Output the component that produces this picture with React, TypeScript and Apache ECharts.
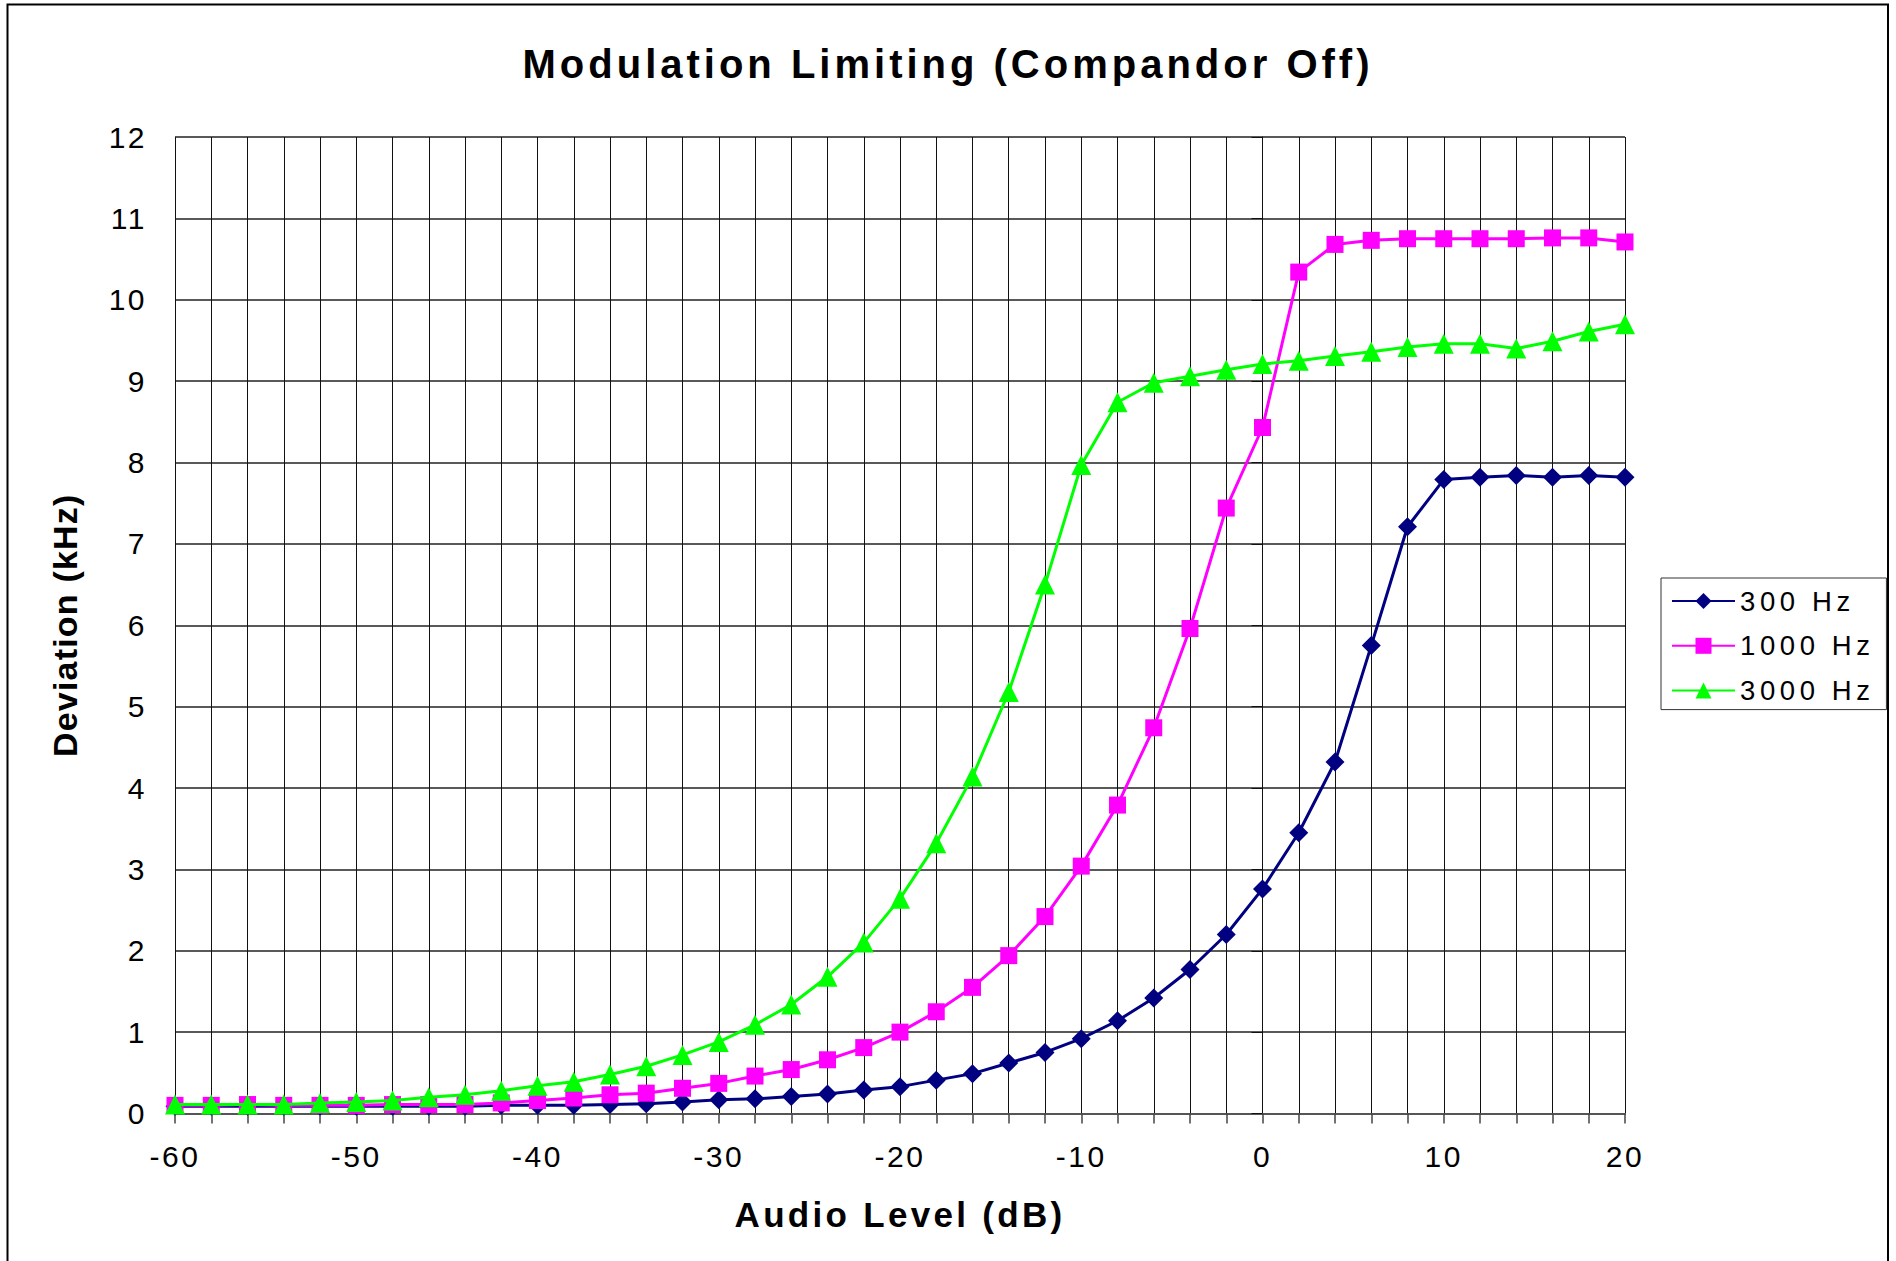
import React, { useEffect, useRef } from 'react';
import * as echarts from 'echarts';

const audioLevels = [
  -60, -58, -56, -54, -52, -50, -48, -46, -44, -42, -40, -38, -36, -34, -32, -30, -28, -26, -24, -22,
  -20, -18, -16, -14, -12, -10, -8, -6, -4, -2, 0, 2, 4, 6, 8, 10, 12, 14, 16, 18, 20,
];

const dev300Hz = [
  0.09, 0.09, 0.09, 0.09, 0.09, 0.09, 0.09, 0.09, 0.09, 0.10, 0.10, 0.10, 0.11, 0.12, 0.14, 0.17, 0.18, 0.21, 0.24, 0.29,
  0.33, 0.41, 0.49, 0.62, 0.75, 0.92, 1.14, 1.42, 1.77, 2.20, 2.76, 3.45, 4.32, 5.75, 7.21, 7.79, 7.82, 7.84, 7.82, 7.84, 7.82,
];

const dev1000Hz = [
  0.10, 0.10, 0.11, 0.10, 0.10, 0.10, 0.11, 0.11, 0.11, 0.13, 0.16, 0.19, 0.23, 0.25, 0.31, 0.37, 0.46, 0.54, 0.66, 0.81,
  1.00, 1.25, 1.55, 1.94, 2.42, 3.04, 3.79, 4.74, 5.96, 7.44, 8.43, 10.34, 10.68, 10.73, 10.75, 10.75, 10.75, 10.75, 10.76, 10.76, 10.71,
];

const dev3000Hz = [
  0.11, 0.11, 0.11, 0.11, 0.13, 0.14, 0.16, 0.20, 0.23, 0.28, 0.34, 0.39, 0.48, 0.58, 0.72, 0.88, 1.09, 1.34, 1.68, 2.10,
  2.64, 3.32, 4.14, 5.18, 6.50, 7.97, 8.74, 8.98, 9.06, 9.14, 9.21, 9.25, 9.31, 9.36, 9.42, 9.46, 9.46, 9.40, 9.49, 9.61, 9.70,
];

const seriesNames = ['300 Hz', '1000 Hz', '3000 Hz'];
const seriesColors = ['#000080', '#FF00FF', '#00FF00'];
const seriesSymbols = ['diamond', 'rect', 'triangle'];
const seriesSymbolSizes = [19, 17, 20];

const FONT = '"Liberation Sans", Arial, Helvetica, sans-serif';

const css = `
#modchart text[style*="40px"]{letter-spacing:4px}
#modchart text[style*="35px"]{letter-spacing:3.3px}
#modchart text[style*="34px"]{letter-spacing:1.2px}
#modchart text[style*="30px"]{letter-spacing:2.5px}
#modchart text[style*="27.5px"]{letter-spacing:4.6px}
`;

export default function App() {
  const ref = useRef<HTMLDivElement>(null);

  useEffect(() => {
    if (!ref.current) return;
    const chart = echarts.init(ref.current, undefined, { renderer: 'svg' });
    const allSeries = [dev300Hz, dev1000Hz, dev3000Hz];
    const option: any = {
      animation: false,
      backgroundColor: '#ffffff',
      title: {
        text: 'Modulation Limiting (Compandor Off)',
        left: 'center',
        top: 44,
        padding: 0,
        textStyle: { fontFamily: FONT, fontSize: 40, fontWeight: 'bold', color: '#000' },
      },
      grid: { left: 175, right: 271, top: 137, bottom: 147.5, show: false },
      xAxis: {
        type: 'value',
        min: -60,
        max: 20,
        interval: 2,
        name: 'Audio Level (dB)',
        nameLocation: 'middle',
        nameGap: 83,
        nameTextStyle: { fontFamily: FONT, fontSize: 35, fontWeight: 'bold', color: '#000' },
        axisLine: { show: true, onZero: false, lineStyle: { color: '#555', width: 2 } },
        axisTick: { show: true, length: 10, lineStyle: { color: '#444', width: 1.5 } },
        axisLabel: {
          formatter: (v: number) => (v % 10 === 0 ? String(v) : ''),
          margin: 28,
          fontSize: 30,
          fontFamily: FONT,
          color: '#000',
        },
        splitLine: { show: true, lineStyle: { color: '#111', width: 1 } },
      },
      yAxis: {
        type: 'value',
        min: 0,
        max: 12,
        interval: 1,
        name: 'Deviation (kHz)',
        nameLocation: 'middle',
        nameGap: 93,
        nameTextStyle: { fontFamily: FONT, fontSize: 34, fontWeight: 'bold', color: '#000' },
        axisLine: { show: true, lineStyle: { color: '#111', width: 1 } },
        axisTick: { show: true, length: 11, lineStyle: { color: '#111', width: 1 } },
        axisLabel: { margin: 28, fontSize: 30, fontFamily: FONT, color: '#000' },
        splitLine: { show: true, lineStyle: { color: '#222', width: 1.5 } },
      },
      legend: {
        orient: 'vertical',
        left: 1661,
        top: 578,
        padding: [9, 44, 5, 10],
        itemWidth: 63,
        itemHeight: 20,
        itemGap: 16.8,
        borderColor: '#333',
        borderWidth: 1,
        backgroundColor: '#fff',
        textStyle: { fontSize: 27.5, fontFamily: FONT, color: '#000', lineHeight: 27 },
        data: seriesNames,
      },
      graphic: [
        {
          type: 'rect',
          silent: true,
          z: -10,
          shape: { x: 7.5, y: 4.5, width: 1880.5, height: 1300 },
          style: { fill: 'none', stroke: '#000', lineWidth: 2 },
        },
      ],
      series: allSeries.map((vals, i) => ({
        name: seriesNames[i],
        type: 'line',
        data: audioLevels.map((x, j) => [x, vals[j]]),
        symbol: seriesSymbols[i],
        symbolSize: seriesSymbolSizes[i],
        showAllSymbol: true,
        lineStyle: { color: seriesColors[i], width: 3 },
        itemStyle: { color: seriesColors[i], borderWidth: 0 },
        z: 2 + i,
      })),
    };
    chart.setOption(option);
    return () => chart.dispose();
  }, []);

  return (
    <>
      <style>{css}</style>
      <div
        id="modchart"
        ref={ref}
        style={{ position: 'fixed', left: 0, top: 0, width: 1896, height: 1261, background: '#fff' }}
      />
    </>
  );
}
